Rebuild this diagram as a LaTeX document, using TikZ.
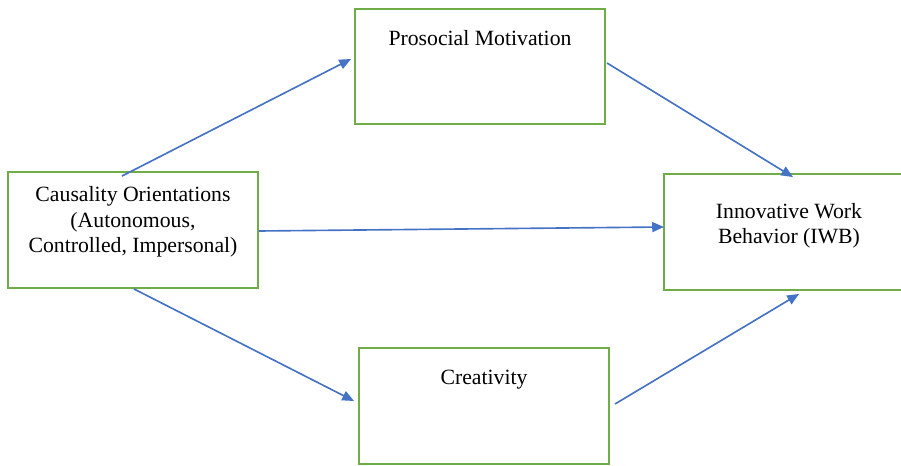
\documentclass[tikz,border=0pt]{standalone}
\usepackage{fontspec}
\setmainfont{Liberation Serif}
\usetikzlibrary{arrows.meta, positioning, calc}
\definecolor{boxgreen}{HTML}{70AD47}
\definecolor{arrblue}{HTML}{4472C4}

\begin{document}
\begin{tikzpicture}[x=0.552pt, y=-0.552pt,
    font=\fontsize{12}{14}\selectfont,
    blk/.style={draw=boxgreen, line width=1.1pt, minimum width=138pt, minimum height=64pt, inner sep=0pt},
    txt/.style={align=center, inner sep=0pt},
    lnk/.style={draw=arrblue, line width=0.9pt, -{Triangle[length=6.5pt, width=5.5pt]}}]
    \useasboundingbox (0,0) rectangle (901,466);
    % boxes
    \node[blk] (cause) at (133,230) {};
    \node[blk] (pro) at (480,66.5) {};
    \node[blk] (crea) at (484,406) {};
    \node[blk] (iwb) at (789,232) {};
    % texts
    \node[txt] (causetxt) at ([shift={(0,-8)}]cause.center) {Causality Orientations\\(Autonomous,\\Controlled, Impersonal)};
    \node[txt] (protxt) at ([shift={(0,31)}]pro.north) {Prosocial Motivation};
    \node[txt] (creatxt) at ([shift={(0,33)}]crea.north) {Creativity};
    \node[txt] (iwbtxt) at ([shift={(0,-6.5)}]iwb.center) {Innovative Work\\Behavior (IWB)};
    % arrows
    \draw[lnk] ([shift={(-11,5)}]cause.north) -- ([shift={(-3,-7.5)}]pro.west);
    \draw[lnk] ([shift={(0,1)}]cause.east) -- ([shift={(1,-5)}]iwb.west);
    \draw[lnk] ([shift={(1,0)}]cause.south) -- ([shift={(-4,-5)}]crea.west);
    \draw[lnk] ([shift={(1,-3.5)}]pro.east) -- ([shift={(4,4)}]iwb.north);
    \draw[lnk] ([shift={(5,-2)}]crea.east) -- ([shift={(10,3)}]iwb.south);
\end{tikzpicture}
\end{document}
